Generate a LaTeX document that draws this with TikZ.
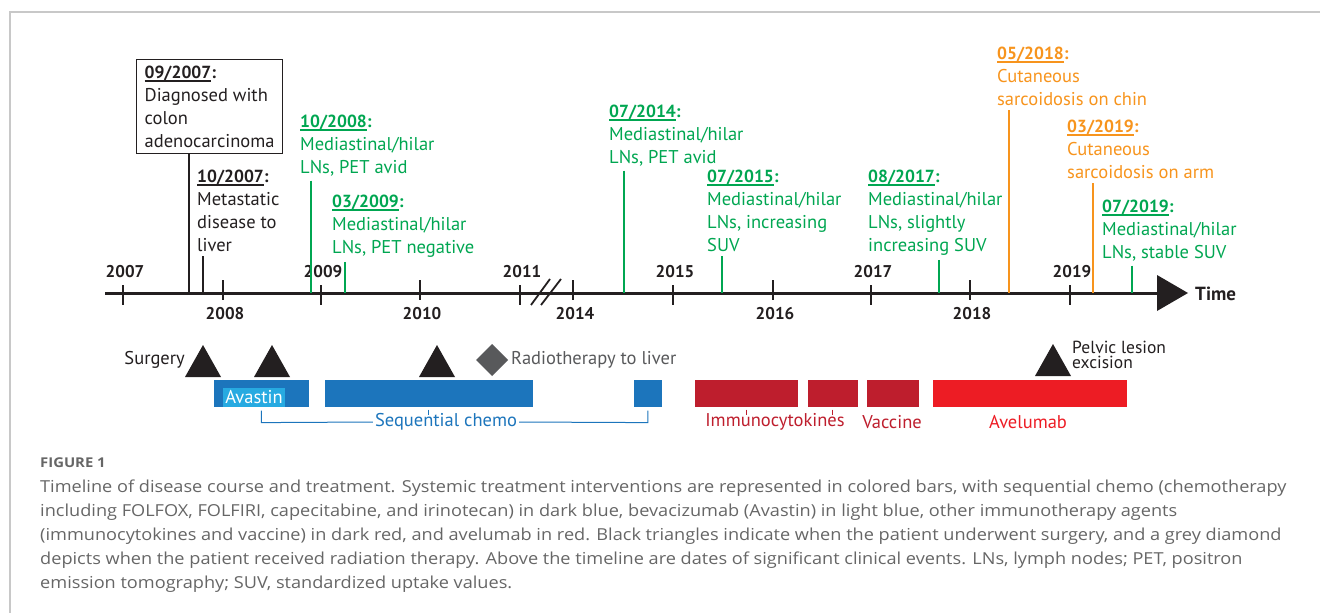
\documentclass[tikz,border=0pt]{standalone}
\usepackage{fontspec}
\setmainfont{PT Sans}
\newfontfamily\capfont[FakeStretch=1.10]{Open Sans}
\usetikzlibrary{shapes.geometric}
\definecolor{evgreen}{HTML}{00A651}
\definecolor{evorange}{HTML}{F7941D}
\definecolor{ink}{HTML}{231F20}
\definecolor{chemo}{HTML}{1C75BC}
\definecolor{avas}{HTML}{27AAE1}
\definecolor{imred}{HTML}{BE1E2D}
\definecolor{avred}{HTML}{ED1C24}
\definecolor{rtgrey}{HTML}{58595B}
\definecolor{capgrey}{HTML}{666666}
\definecolor{framegrey}{HTML}{C8C8C8}
\newcommand{\dul}[1]{{\fontsize{17.5}{23}\selectfont\setbox0\hbox{\textbf{#1}}\rlap{\rule[-3.4pt]{\wd0}{1.6pt}}\box0\textbf{:}}}
\newcommand{\evfont}{\fontsize{18.5}{23}\selectfont}
\newcommand{\yrfont}{\fontsize{17}{20}\selectfont\bfseries}
\newcommand{\capfnt}{\capfont\fontsize{16.5}{20}\selectfont}
\begin{document}
\begin{tikzpicture}[x=1pt,y=-1pt,
  ev/.style={anchor=north west, inner sep=0pt, align=left, font=\evfont},
  evline/.style={line width=1.8pt, shorten <=4pt},
  yr/.style={font=\yrfont, text=ink, inner sep=0pt},
  tickmark/.style={line width=2.2pt, draw=ink},
  bar/.style={anchor=north west, inner sep=0pt, minimum height=28pt, draw=white, line width=0.6pt},
  tlab/.style={font=\evfont, inner sep=0pt},
  tri/.style={fill=ink},
  captext/.style={anchor=west, inner sep=0pt, font=\capfnt, text=capgrey},
]
\useasboundingbox (0,0) rectangle (1320,613);
% frame
\draw[framegrey, line width=1.2pt] (10,613) -- (10,12) -- (1320,12);

% axis
\coordinate (ax0) at (105,293);
\coordinate (ax1) at (1160,293);
\draw[line width=3pt, ink] (ax0) -- (ax1);
\fill[ink] (1157,275) -- (1188,293) -- (1157,311) -- cycle;
\node[anchor=west, inner sep=0pt, font=\fontsize{19}{20}\selectfont\bfseries, text=ink] (time) at (1195,294) {Time};

% ticks and year labels
\foreach \x/\lab in {123/2007, 321/2009, 520/2011, 673/2015, 871/2017, 1070/2019}{
  \draw[tickmark] (\x,285) -- (\x,305);
  \node[yr] at (\x+2,272) {\lab};
}
\foreach \x/\lab in {223/2008, 420/2010, 573/2014, 773/2016, 970/2018}{
  \draw[tickmark] (\x,280) -- (\x,300);
  \node[yr] at (\x+2,314) {\lab};
}
% break marks
\draw[line width=1.8pt, ink] (531,305) -- (550,279);
\draw[line width=1.8pt, ink] (541,305) -- (561,279);

% event anchor points on axis
\coordinate (t0907) at (189,293);
\coordinate (t1007) at (203,293);
\coordinate (t1008) at (311,293);
\coordinate (t0309) at (345,293);
\coordinate (t0714) at (624,293);
\coordinate (t0715) at (722,293);
\coordinate (t0817) at (939,293);
\coordinate (t0518) at (1009,293);
\coordinate (t0319) at (1093,293);
\coordinate (t0719) at (1132,293);

% events
\node[ev, draw=ink, line width=1.3pt, inner xsep=8pt, inner ysep=6pt, text=ink] (e0907) at (136,59)
  {\dul{09/2007}\\Diagnosed with\\colon\\adenocarcinoma};
\draw[line width=2pt, ink] (e0907.south -| t0907) -- (t0907);

\node[ev, text=ink] (e1007) at (197,170) {\dul{10/2007}\\Metastatic\\disease to\\liver};
\draw[evline, ink] (e1007.south -| t1007) -- (t1007);

\node[ev, text=evgreen] (e1008) at (300,115) {\dul{10/2008}\\Mediastinal/hilar\\LNs, PET avid};
\draw[evline, evgreen] (e1008.south -| t1008) -- (t1008);

\node[ev, text=evgreen] (e0309) at (332,195) {\dul{03/2009}\\Mediastinal/hilar\\LNs, PET negative};
\draw[evline, evgreen] (e0309.south -| t0309) -- (t0309);

\node[ev, text=evgreen] (e0714) at (609,105) {\dul{07/2014}\\Mediastinal/hilar\\LNs, PET avid};
\draw[evline, evgreen] (e0714.south -| t0714) -- (t0714);

\node[ev, text=evgreen] (e0715) at (707,170) {\dul{07/2015}\\Mediastinal/hilar\\LNs, increasing\\SUV};
\draw[evline, evgreen] (e0715.south -| t0715) -- (t0715);

\node[ev, text=evgreen] (e0817) at (868,170) {\dul{08/2017}\\Mediastinal/hilar\\LNs, slightly\\increasing SUV};
\draw[evline, evgreen] (e0817.south -| t0817) -- (t0817);

\node[ev, text=evorange] (e0518) at (997,47) {\dul{05/2018}\\Cutaneous\\sarcoidosis on chin};
\draw[evline, evorange] (e0518.south -| t0518) -- (t0518);

\node[ev, text=evorange] (e0319) at (1067,120) {\dul{03/2019}\\Cutaneous\\sarcoidosis on arm};
\draw[evline, evorange] (e0319.south -| t0319) -- (t0319);

\node[ev, text=evgreen] (e0719) at (1102,200) {\dul{07/2019}\\Mediastinal/hilar\\LNs, stable SUV};
\draw[evline, evgreen] (e0719.south -| t0719) -- (t0719);

% surgeries (triangles) and radiotherapy (diamond)
\fill[tri] (185,377) -- (203,345) -- (221,377) -- cycle;
\fill[tri] (254,377) -- (272,345) -- (290,377) -- cycle;
\fill[tri] (419,377) -- (437,345) -- (455,377) -- cycle;
\fill[tri] (1035,376) -- (1053,344) -- (1071,376) -- cycle;
\node[anchor=east, inner sep=0pt, font=\evfont, text=ink] (surg) at (185,360) {Surgery};
\fill[rtgrey] (476,360) -- (492,344) -- (508,360) -- (492,376) -- cycle;
\node[anchor=west, inner sep=0pt, font=\evfont, text=rtgrey] (rt) at (511,360) {Radiotherapy to liver};
\node[anchor=north west, inner sep=0pt, align=left, font=\fontsize{17.5}{14.5}\selectfont, text=ink] (pelv) at (1072,341) {Pelvic lesion\\excision};

% treatment bars
\node[bar, fill=chemo, minimum width=96pt] (c1) at (213,379) {};
\node[bar, fill=chemo, minimum width=209pt] (c2) at (324,379) {};
\node[bar, fill=chemo, minimum width=29pt] (c3) at (633,379) {};
\node[fill=avas, text=white, inner xsep=1pt, inner ysep=0pt, minimum height=19pt, minimum width=62pt, font=\evfont] (av) at (254,397) {Avastin};
\node[bar, fill=imred, minimum width=104pt] (r1) at (694,379) {};
\node[bar, fill=imred, minimum width=51pt] (r2) at (807,379) {};
\node[bar, fill=imred, minimum width=53pt] (r3) at (866,379) {};
\node[bar, fill=avred, minimum width=195pt] (r4) at (932,379) {};

% labels under bars
\node[tlab, text=chemo, fill=white, inner xsep=2pt] (seq) at (446,422) {Sequential chemo};
\draw[chemo, line width=1pt] (c1.south) ++(0,3) -- ++(0,12) -- (seq.west);
\draw[chemo, line width=1pt] (c3.south) ++(0,3) -- ++(0,12) -- (seq.east);
\draw[chemo, line width=1pt] (c2.south -| 428,0) ++(0,2) -- ++(0,5);
\node[tlab, text=imred] (imm) at (775,422) {Immunocytokines};
\node[tlab, text=imred] (vac) at (892,422) {Vaccine};
\node[tlab, text=avred] (ave) at (1028,422) {Avelumab};
\draw[imred, line width=1pt] (r1.south) ++(0,2) -- ++(0,5);
\draw[imred, line width=1pt] (r2.south) ++(0,2) -- ++(0,5);

% caption
\node[anchor=west, inner sep=0pt, font=\capfont\fontsize{13.5}{16}\selectfont\bfseries, text=capgrey] (fig) at (40,463) {FIGURE 1};
\node[captext] (l1) at (40,488) {Timeline of disease course and treatment. Systemic treatment interventions are represented in colored bars, with sequential chemo (chemotherapy};
\node[captext] (l2) at (40,512) {including FOLFOX, FOLFIRI, capecitabine, and irinotecan) in dark blue, bevacizumab (Avastin) in light blue, other immunotherapy agents};
\node[captext] (l3) at (40,536) {(immunocytokines and vaccine) in dark red, and avelumab in red. Black triangles indicate when the patient underwent surgery, and a grey diamond};
\node[captext] (l4) at (40,560) {depicts when the patient received radiation therapy. Above the timeline are dates of significant clinical events. LNs, lymph nodes; PET, positron};
\node[captext] (l5) at (40,584) {emission tomography; SUV, standardized uptake values.};
\end{tikzpicture}
\end{document}
